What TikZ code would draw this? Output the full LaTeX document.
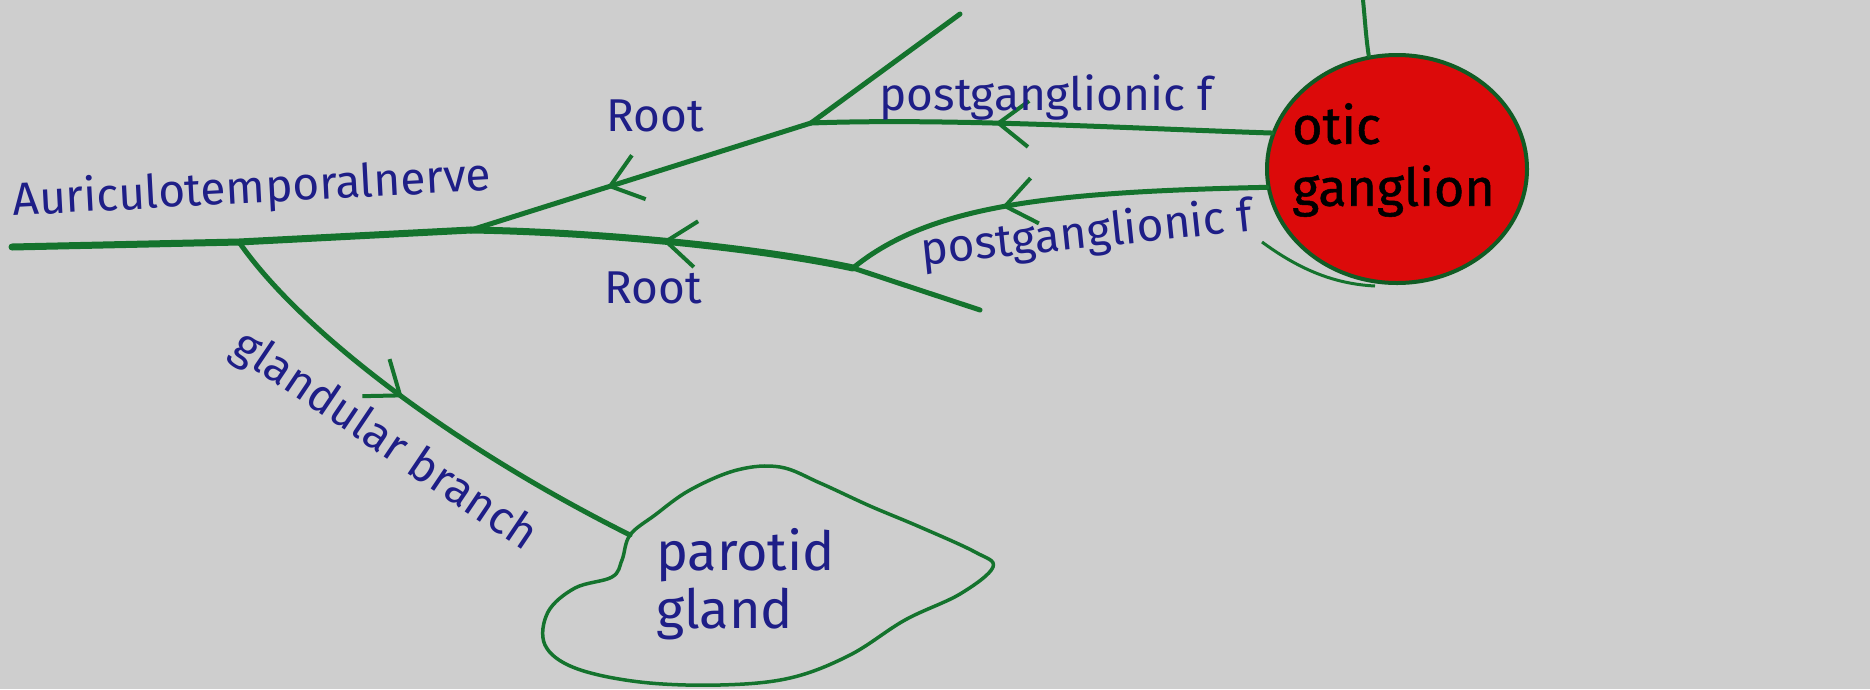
\documentclass[tikz,border=0pt]{standalone}
\usepackage{fontspec}
\setmainfont{Fira Sans}
\usetikzlibrary{arrows.meta,decorations.markings,shapes.geometric}
\definecolor{bg}{RGB}{206,206,206}
\definecolor{nervegreen}{RGB}{20,115,45}
\definecolor{inkblue}{RGB}{30,30,135}
\definecolor{gangred}{RGB}{220,10,10}
\tikzset{
  nerve/.style={draw=nervegreen, line width=5pt, line cap=round, line join=round},
  thicknerve/.style={nerve, line width=7pt},
  midarrow/.style={postaction={decorate}, decoration={markings, mark=at position #1 with {\arrow{Straight Barb[length=30pt,width=46pt,line width=4pt]}}}},
  midarrow/.default=0.5,
  lbl/.style={text=inkblue, font=\fontsize{46}{54}\selectfont, inner sep=0pt},
}
\begin{document}
\begin{tikzpicture}[x=1pt,y=-1pt]
\useasboundingbox (0,0) rectangle (1870,689);
\fill[bg] (0,0) rectangle (1870,689);
% junctions
\coordinate (A0) at (12,247);
\coordinate (G) at (239,242);
\coordinate (J1) at (471,230);
\coordinate (J2) at (853,268);
\coordinate (E2) at (980,310);
\coordinate (J3) at (811,123);
\coordinate (T) at (960,14);
\coordinate (Top) at (1363,0);
\coordinate (P) at (630,535);
% otic ganglion
\node[ellipse, draw=nervegreen!80!black, fill=gangred, line width=4pt, minimum width=260pt, minimum height=228pt, inner sep=0pt] (otic) at (1397,169) {};
\node[anchor=west, align=left, text=black, font=\fontsize{52}{62}\selectfont\addfontfeature{FakeBold=1}, inner sep=0pt] (otictext) at (1292,160) {otic\\ganglion};
\draw[draw=nervegreen, line width=3pt] (1262,242) .. controls (1300,270) and (1335,284) .. (1375,286);
% nerves
\draw[thicknerve] (A0) -- (G) -- (J1);
\draw[thicknerve, midarrow=0.5] (J2) .. controls (760,248) and (600,232) .. (J1);
\draw[nerve] (J2) -- (E2);
\draw[nerve, midarrow=0.6] (J3) -- (J1);
\draw[nerve] (T) -- (J3);
\draw[nerve, midarrow=0.6] (otic.164) .. controls (1120,128) and (950,118) .. (J3);
\draw[nerve, midarrow=0.62] (otic.188) .. controls (1050,192) and (930,205) .. (J2);
\draw[nerve, midarrow=0.46] (G) .. controls (300,330) and (450,445) .. (P);
\draw[nerve, line width=4pt] (Top) .. controls (1365,20) and (1366,38) .. (otic.104);
% parotid gland
\draw[nervegreen, line width=3.5pt] plot[smooth cycle, tension=0.6] coordinates {
 (630,535) (622,560) (612,577) (575,588) (548,612) (545,645) (575,668) (640,682)
 (720,685) (790,678) (850,655) (905,620) (960,594) (993,567) (975,552) (920,527)
 (870,506) (820,483) (780,467) (737,470) (690,490) (655,515)};
% labels
\node[lbl, rotate=3] (nervelbl) at (252,190) {Auriculotemporalnerve};
\node[lbl] (root1) at (655,116) {Root};
\node[lbl] (pf1) at (1046,97) {postganglionic f};
\node[lbl, rotate=6] (pf2) at (1087,235) {postganglionic f};
\node[lbl] (root2) at (653,288) {Root};
\node[lbl, rotate=-34] (gb) at (384,442) {glandular branch};
\node[lbl, align=left, anchor=west, font=\fontsize{54}{58}\selectfont] (par) at (656,584) {parotid\\gland};
\end{tikzpicture}
\end{document}
